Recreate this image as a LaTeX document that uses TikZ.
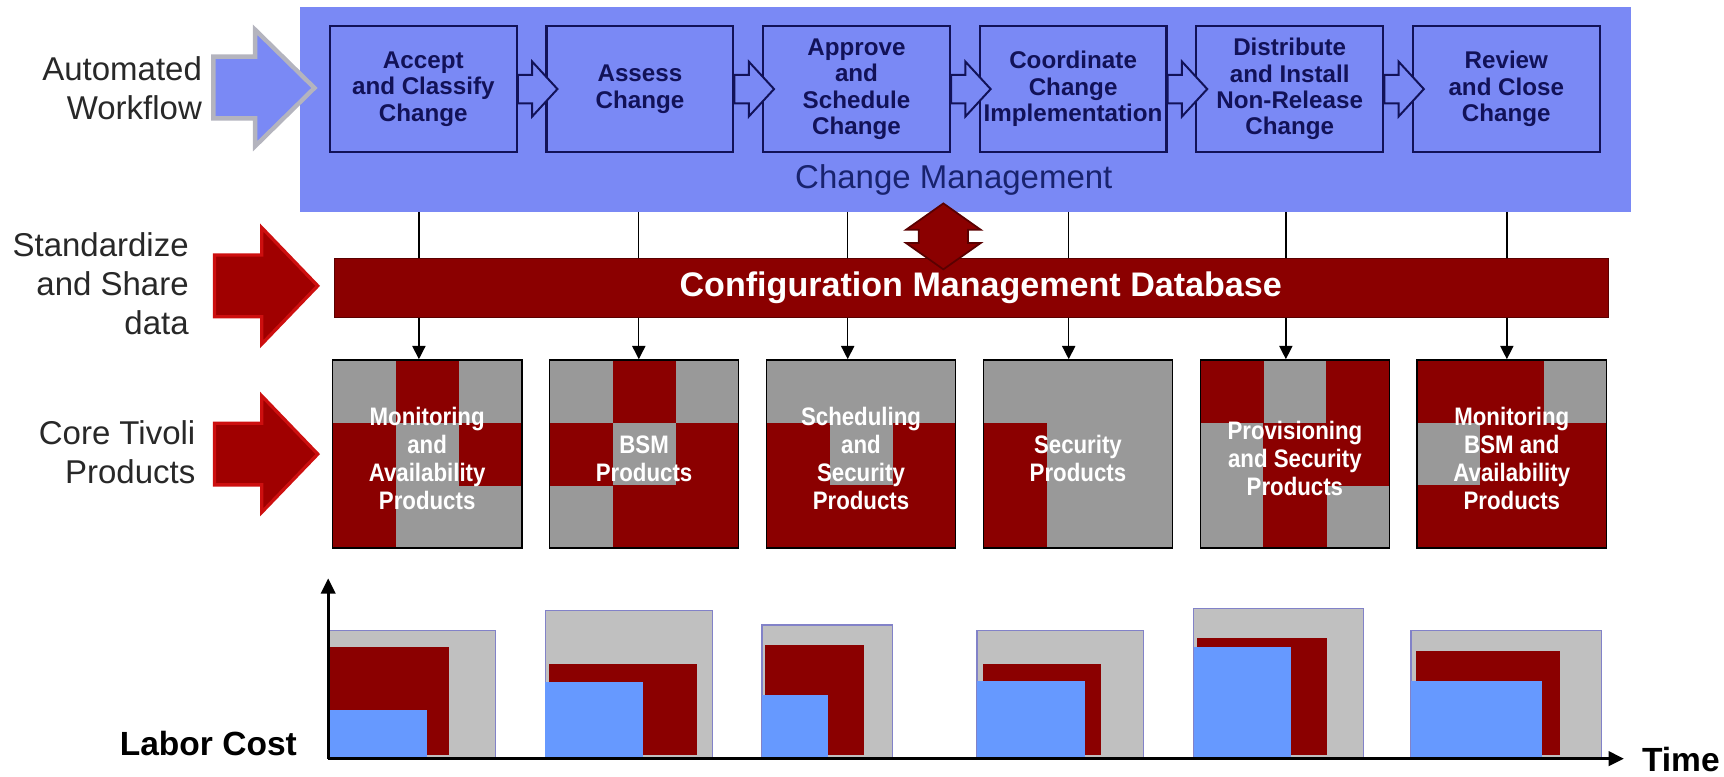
\documentclass[tikz,border=0pt]{standalone}
\usepackage{fontspec}
\setmainfont{Liberation Sans}
\newfontfamily\narrowsans[FakeStretch=0.88]{Liberation Sans}
\usetikzlibrary{arrows.meta,calc}
\definecolor{cmblue}{RGB}{122,137,245}
\definecolor{navy}{RGB}{18,18,88}
\definecolor{cmtext}{RGB}{25,35,110}
\definecolor{dbred}{RGB}{139,0,0}
\definecolor{dbedge}{RGB}{90,0,0}
\definecolor{pgray}{RGB}{153,153,153}
\definecolor{cgray}{RGB}{192,192,192}
\definecolor{cblue}{RGB}{102,153,255}
\definecolor{cedge}{RGB}{130,130,200}
\definecolor{arrred}{RGB}{160,0,0}
\definecolor{arredge}{RGB}{205,15,15}
\definecolor{arrgray}{RGB}{180,180,190}
\definecolor{labelgray}{RGB}{40,40,40}
\newcommand{\productbox}[4]{%
  \fill[pgray] (#2,327.4) rectangle ++(172,171.2);
  \foreach \c/\r in {#3} {\fill[dbred] ({#2+\c*172/3},{327.4+\r*171.2/3}) rectangle ++(57.6,57.3);}
  \node[pbox] (#1) at ({#2+86},413) {};
  \node[prodtext] at ({#2+86},417) {#4};
}
\newcommand{\chartbar}[8]{%
  \fill[cgray, draw=cedge, line width=0.5pt] (#1,689) rectangle (#2,#3);
  \fill[dbred] (#4,687) rectangle (#5,#6);
  \fill[cblue] (#1,689) rectangle (#7,#8);
}
\begin{document}
\begin{tikzpicture}[x=0.5pt,y=-0.5pt,
  leftlabel/.style={align=right, anchor=east, inner sep=0, text=labelgray, font=\fontsize{15}{17.75}\selectfont},
  stepbox/.style={draw=navy, line width=1pt, fill=cmblue, minimum width=85pt, minimum height=57pt, inner sep=0, align=center, text=navy, font=\bfseries\fontsize{11}{12}\selectfont},
  steparrow/.style={draw=navy, line width=0.9pt, fill=cmblue, line join=miter},
  pbox/.style={draw=black, line width=0.75pt, minimum width=86pt, minimum height=85.6pt, inner sep=0},
  prodtext/.style={text=white, align=center, inner sep=0, font=\narrowsans\bfseries\fontsize{11.5}{12.75}\selectfont},
  conn/.style={draw=black, line width=0.6pt},
  dbarrow/.style={conn, -{Triangle[length=6pt,width=6pt]}},
  axis/.style={draw=black, line width=1.5pt, -{Triangle[length=7pt,width=6.5pt]}},
  redarrow/.style={fill=arrred, draw=arredge, line width=1.5pt, line join=miter},
  boldlabel/.style={inner sep=0, text=black, font=\bfseries\fontsize{15.25}{18}\selectfont}
]
\path[use as bounding box] (0,0) rectangle (1568,706);

% Change management area
\node[fill=cmblue, minimum width=605pt, minimum height=92.85pt, inner sep=0] (cm) at (878,99.55) {};
\node[stepbox] (s1) at (385,81) {Accept\\and Classify\\Change};
\node[stepbox] (s2) at (582,81) {Assess\\Change};
\node[stepbox] (s3) at (779,81) {Approve\\and\\Schedule\\Change};
\node[stepbox] (s4) at (976,81) {Coordinate\\Change\\Implementation};
\node[stepbox] (s5) at (1173,81) {Distribute\\and Install\\Non-Release\\Change};
\node[stepbox] (s6) at (1370,81) {Review\\and Close\\Change};
\foreach \a in {s1,s2,s3,s4,s5}{
  \draw[steparrow] (\a.east) ++(0,-13) -- ++(13,0) -- ++(0,-12) -- ++(23,25) -- ++(-23,25) -- ++(0,-12) -- ++(-13,0) -- cycle;
}
\node[inner sep=0, text=cmtext, font=\fontsize{15}{18}\selectfont] (cmt) at (867.5,164) {Change Management};

% left labels and arrows
\node[leftlabel] (aw) at (184,80) {Automated\\Workflow};
\node[leftlabel] (ss) at (172,258) {Standardize\\and Share\\data};
\node[leftlabel] (ct) at (178,411) {Core Tivoli\\Products};
\draw[fill=cmblue, draw=arrgray, line width=2pt, line join=miter]
  (194,51.5) -- (232,51.5) -- (232,27) -- (286,80) -- (232,133) -- (232,107.6) -- (194,107.6) -- cycle;
\draw[redarrow] (195,232) -- (238,232) -- (238,207) -- (289,260) -- (238,313) -- (238,288) -- (195,288) -- cycle;
\draw[redarrow] (195,385) -- (238,385) -- (238,360) -- (289,413) -- (238,466) -- (238,441) -- (195,441) -- cycle;

% CMDB
\node[fill=dbred, draw=dbedge, line width=0.6pt, minimum width=579.25pt, minimum height=27pt, inner sep=0] (db) at (883.75,262) {};
\node[inner sep=0, text=white, font=\bfseries\fontsize{15.5}{18}\selectfont] (dbt) at (892,262) {Configuration Management Database};

% double arrow
\draw[fill=dbred, draw=dbedge, line width=0.8pt, line join=miter]
  (858,185) -- (892,209) -- (880.5,209) -- (880.5,221) -- (892,221) -- (858,245) -- (824,221) -- (835.5,221) -- (835.5,209) -- (824,209) -- cycle;

% products
\productbox{p1}{302.5}{1/0,0/1,2/1,0/2}{Monitoring\\and\\Availability\\Products}
\productbox{p2}{499.8}{1/0,0/1,2/1,1/2,2/2}{BSM\\Products}
\productbox{p3}{697.1}{0/1,2/1,0/2,1/2,2/2}{Scheduling\\and\\Security\\Products}
\productbox{p4}{894.4}{0/1,0/2}{Security\\Products}
\productbox{p5}{1091.7}{0/0,2/0,1/1,2/1,1/2}{Provisioning\\and Security\\Products}
\productbox{p6}{1289}{0/0,1/0,1/1,2/1,0/2,1/2,2/2}{Monitoring\\BSM and\\Availability\\Products}

% connectors
\coordinate (l1) at (381,0);
\coordinate (l2) at (581,0);
\coordinate (l3) at (771,0);
\coordinate (l4) at (972,0);
\coordinate (l5) at (1169.5,0);
\coordinate (l6) at (1370.5,0);
\foreach \i in {1,...,6}{
  \draw[conn] (l\i |- cm.south) -- (l\i |- db.north);
  \draw[dbarrow] (l\i |- db.south) -- (l\i |- p\i.north);
}

% chart
\chartbar{299.8}{451}{573.8}{299.8}{408.4}{588.7}{388.3}{645.7}
\chartbar{496}{648}{555.4}{499}{634}{603.8}{584.6}{620}
\chartbar{693}{811.4}{568.4}{696}{786}{586.6}{752.9}{632}
\chartbar{888.6}{1040.3}{573.8}{893.6}{1001.5}{603.8}{987.2}{619}
\chartbar{1085.6}{1240.1}{553.2}{1089}{1207.3}{580.5}{1174.1}{588.7}
\chartbar{1283.3}{1456.8}{573.8}{1287.6}{1418.8}{591.7}{1402.8}{619}
\coordinate (o) at (298.5,690);
\coordinate (ytip) at (298.5,526);
\coordinate (xtip) at (1477,690);
\draw[axis] (o) -- (ytip);
\draw[axis] (o) -- (xtip);
\node[boldlabel] (lc) at (189.5,676) {Labor Cost};
\node[boldlabel, anchor=west] (tm) at (1493,691) {Time};
\end{tikzpicture}
\end{document}
